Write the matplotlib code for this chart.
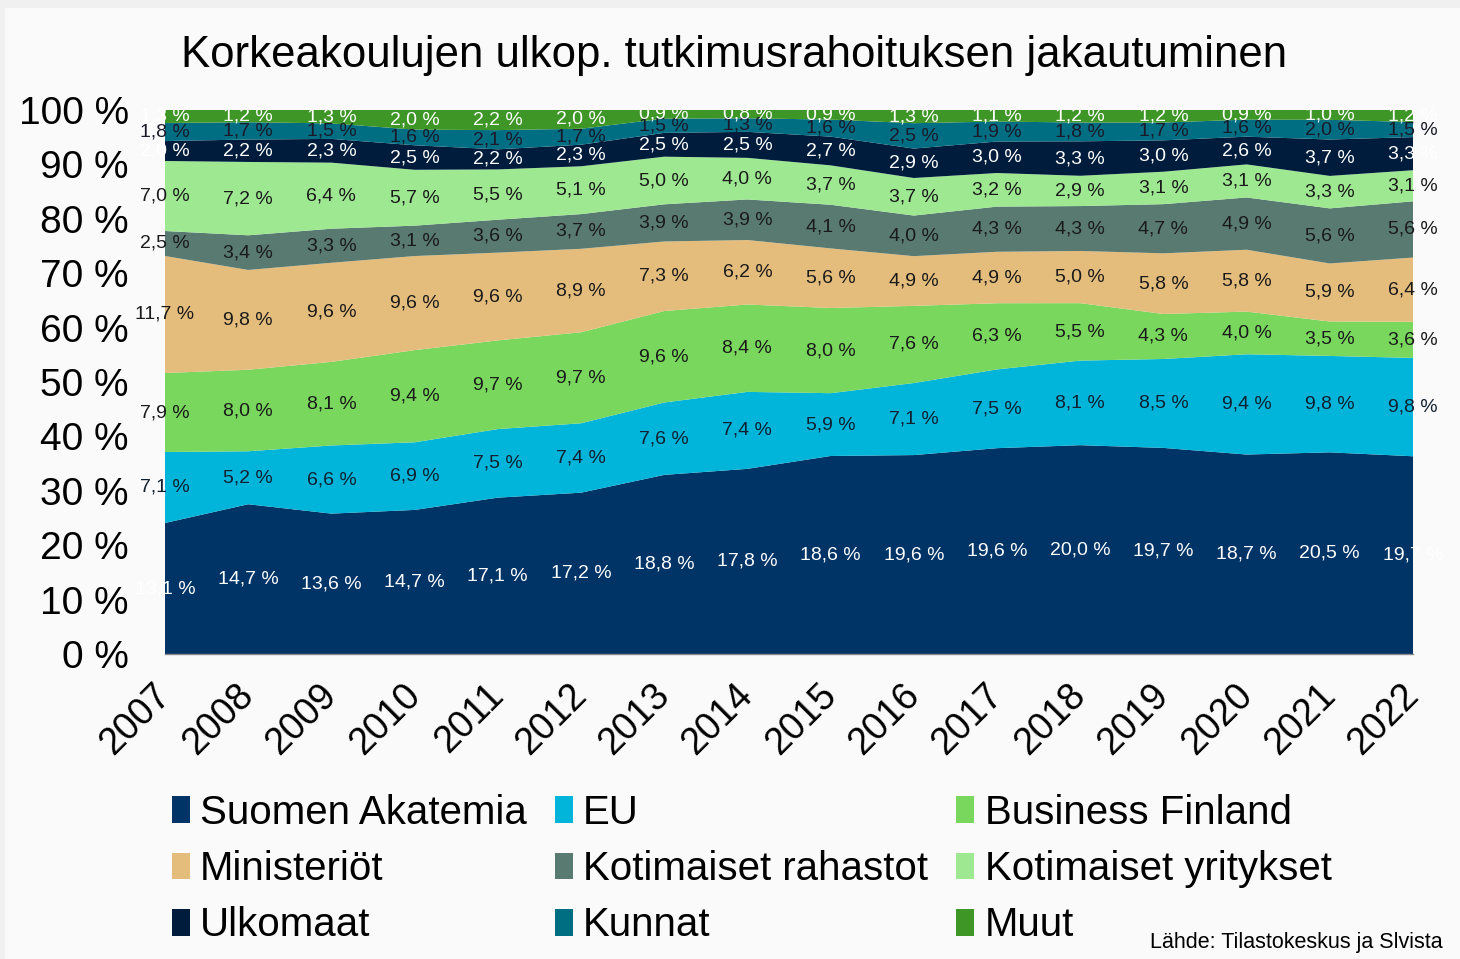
import numpy as np
import matplotlib
matplotlib.use("Agg")
import matplotlib.pyplot as plt
from matplotlib.patches import Patch, Rectangle

plt.rcParams['font.family'] = ['Liberation Sans', 'DejaVu Sans']

years = np.arange(2007, 2023)

series_names = ['Suomen Akatemia', 'EU', 'Business Finland', 'Ministeriöt',
                'Kotimaiset rahastot', 'Kotimaiset yritykset', 'Ulkomaat',
                'Kunnat', 'Muut']

suomen_akatemia = [13.1, 14.7, 13.6, 14.7, 17.1, 17.2, 18.8, 17.8, 18.6, 19.6, 19.6, 20.0, 19.7, 18.7, 20.5, 19.7]
eu = [7.1, 5.2, 6.6, 6.9, 7.5, 7.4, 7.6, 7.4, 5.9, 7.1, 7.5, 8.1, 8.5, 9.4, 9.8, 9.8]
business_finland = [7.9, 8.0, 8.1, 9.4, 9.7, 9.7, 9.6, 8.4, 8.0, 7.6, 6.3, 5.5, 4.3, 4.0, 3.5, 3.6]
ministeriot = [11.7, 9.8, 9.6, 9.6, 9.6, 8.9, 7.3, 6.2, 5.6, 4.9, 4.9, 5.0, 5.8, 5.8, 5.9, 6.4]
kotim_rahastot = [2.5, 3.4, 3.3, 3.1, 3.6, 3.7, 3.9, 3.9, 4.1, 4.0, 4.3, 4.3, 4.7, 4.9, 5.6, 5.6]
kotim_yritykset = [7.0, 7.2, 6.4, 5.7, 5.5, 5.1, 5.0, 4.0, 3.7, 3.7, 3.2, 2.9, 3.1, 3.1, 3.3, 3.1]
ulkomaat = [2.0, 2.2, 2.3, 2.5, 2.2, 2.3, 2.5, 2.5, 2.7, 2.9, 3.0, 3.3, 3.0, 2.6, 3.7, 3.3]
kunnat = [1.8, 1.7, 1.5, 1.6, 2.1, 1.7, 1.5, 1.3, 1.6, 2.5, 1.9, 1.8, 1.7, 1.6, 2.0, 1.5]
muut = [1.3, 1.2, 1.3, 2.0, 2.2, 2.0, 0.9, 0.8, 0.9, 1.3, 1.1, 1.2, 1.2, 0.9, 1.0, 1.2]

colors = ['#003366', '#00b5d9', '#78d75c', '#e4bd7c', '#587a70',
          '#9ee892', '#001c3c', '#006e82', '#3e9626']
text_colors = ['white', '#102030', '#1a1a1a', '#1a1a1a', '#1a1a1a',
               '#1a1a1a', 'white', '#1a1a2a', 'white']

values = np.array([suomen_akatemia, eu, business_finland, ministeriot,
                   kotim_rahastot, kotim_yritykset, ulkomaat, kunnat, muut])
shares = values / values.sum(axis=0) * 100

fig = plt.figure(figsize=(14.6, 9.59), dpi=100, facecolor='#f0f0f0')
fig.patches.append(Rectangle((5 / 1460, 0), 1, 1 - 8 / 959, transform=fig.transFigure,
                             facecolor='#fafafa', edgecolor='none', zorder=-10))

ax = fig.add_axes([165 / 1460, 1 - 654 / 959, (1413 - 165) / 1460, (654 - 110) / 959])
ax.set_facecolor('none')
ax.stackplot(years, shares, colors=colors, linewidth=0)

# value labels in the middle of each band
cum = np.cumsum(shares, axis=0)
for i in range(len(series_names)):
    for j, yr in enumerate(years):
        mid = cum[i, j] - shares[i, j] / 2
        lbl = f'{values[i, j]:.1f} %'.replace('.', ',')
        ax.text(yr, mid, lbl, ha='center', va='center', fontsize=14,
                color=text_colors[i], clip_on=False)

ax.set_xlim(2007, 2022)
ax.set_ylim(0, 100)
ax.set_yticks(np.arange(0, 101, 10))
ax.set_yticklabels([f'{v} %' for v in range(0, 101, 10)], fontsize=28)
ax.set_xticks(years)
ax.set_xticklabels([str(y) for y in years], fontsize=27, rotation=45,
                   ha='right', va='center', rotation_mode='anchor')
ax.tick_params(axis='y', length=0, pad=26)
ax.tick_params(axis='x', length=0, pad=26)
for s in ['top', 'right', 'left']:
    ax.spines[s].set_visible(False)
ax.spines['bottom'].set_color('#888888')
ax.spines['bottom'].set_linewidth(1)

fig.text(0.503, 0.942, 'Korkeakoulujen ulkop. tutkimusrahoituksen jakautuminen',
         ha='center', va='center', fontsize=31.5)

# legend filled column-wise, so reorder to get row-wise reading
handles = [Patch(facecolor=c, edgecolor='none') for c in colors]
order = [0, 3, 6, 1, 4, 7, 2, 5, 8]
fig.legend([handles[k] for k in order], [series_names[k] for k in order],
           loc='upper left', bbox_to_anchor=(0.1176, 1 - 794 / 959), ncol=3, frameon=False,
           fontsize=29, handlelength=0.45, handleheight=0.65, handletextpad=0.25,
           columnspacing=0.7, labelspacing=0.45, borderaxespad=0, borderpad=0)

fig.text(1443 / 1460, 1 - 953 / 959, 'Lähde: Tilastokeskus ja Slvista',
         ha='right', va='bottom', fontsize=15.5)

fig.savefig('out.png', dpi=100, facecolor=fig.get_facecolor())
